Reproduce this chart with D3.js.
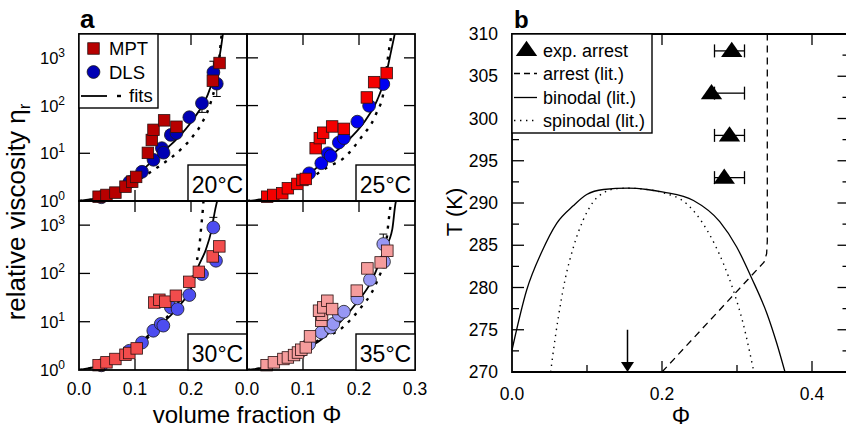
<!DOCTYPE html>
<html><head><meta charset="utf-8">
<script src="https://cdn.jsdelivr.net/npm/d3@7"></script>
<style>
body{margin:0;background:#fff}
svg{display:block}
text{font-family:"Liberation Sans",Arial,Helvetica,sans-serif;fill:#000}
</style>
</head><body>
<svg id="chart" width="846" height="431"></svg>
<script>
// ---------- panel a: relative viscosity vs. volume fraction (MPT and DLS, four temperatures) ----------
const tempLabels = ["20°C", "25°C", "30°C", "35°C"];
const phiTickLabelsA = [["0.0", "0.1", "0.2"], ["0.0", "0.1", "0.2", "0.3"]];
const etaTicks = [1, 10, 100, 1000];

// [phi, eta]
const mpt20 = [[0.035,1.23],[0.049,1.34],[0.065,1.5],[0.083,2.0],[0.095,2.54],[0.102,3.2],[0.123,10.2],[0.130,19],[0.133,31],[0.152,49],[0.174,36],[0.239,331],[0.251,780]];
const dls20 = [[0.040,1.2],[0.090,2.5],[0.1125,4.1],[0.133,7.3],[0.148,12.8],[0.151,10.3],[0.164,24.3],[0.174,26.5],[0.197,57],[0.2196,112],[0.240,500],[0.246,288]];
const mpt25 = [[0.036,1.23],[0.047,1.34],[0.063,1.45],[0.073,1.85],[0.090,2.28],[0.099,2.76],[0.105,2.9],[0.1226,12.8],[0.130,20.8],[0.136,27],[0.152,36.5],[0.173,32.5],[0.214,148],[0.227,310],[0.2494,480]];
const dls25 = [[0.111,3.8],[0.1327,6.2],[0.1446,10],[0.1494,8.8],[0.164,16.8],[0.173,20.8],[0.197,46],[0.218,99],[0.2434,282]];
const mpt30 = [[0.035,1.26],[0.049,1.44],[0.065,1.69],[0.083,2.07],[0.0899,2.25],[0.103,2.8],[0.1345,25],[0.1435,28.5],[0.154,26],[0.173,34.5],[0.197,67],[0.214,108],[0.2387,225],[0.2506,363]];
const dls30 = [[0.040,1.25],[0.0899,2.5],[0.1125,3.7],[0.1327,6.5],[0.146,9],[0.1506,8.3],[0.164,19.8],[0.176,18.3],[0.197,35.7],[0.2196,97],[0.2399,895],[0.2446,183]];
const mpt35 = [[0.035,1.26],[0.048,1.44],[0.065,1.69],[0.073,1.82],[0.084,2.04],[0.091,2.3],[0.097,2.63],[0.105,2.94],[0.1125,4.97],[0.1327,10.5],[0.134,14],[0.1286,16.9],[0.136,19.8],[0.1435,27.2],[0.152,18.3],[0.196,44],[0.215,127],[0.2387,169],[0.2506,295]];
const dls35 = [[0.097,2.5],[0.111,3.45],[0.1327,6.0],[0.1494,7.6],[0.154,9],[0.164,13.8],[0.173,16.1],[0.197,30.4],[0.2196,74],[0.2446,175],[0.2434,406]];

// DLS error bars: [phi, low, high]
const err20 = [[0.2196,72,112],[0.240,500,850],[0.246,155,288]];
const err25 = [];
const err30 = [[0.2399,895,1450]];
const err35 = [[0.2434,406,653]];

// fit curves, [phi, eta]
const fitSolid20 = [[0,1],[0.04,1.2],[0.08,1.8],[0.114,4.5],[0.1435,9.3],[0.173,19],[0.203,50],[0.23,169],[0.243,480],[0.252,1260],[0.258,3900]];
const fitDot20   = [[0,1],[0.05,1.25],[0.1,2.5],[0.1405,5.1],[0.167,8.5],[0.203,22.4],[0.218,40],[0.2327,95],[0.2416,214],[0.2494,660],[0.2536,2400],[0.256,4000]];
const fitSolid25 = [[0,1],[0.05,1.25],[0.09,2.1],[0.12,4.5],[0.155,10],[0.185,21],[0.212,50],[0.2327,132],[0.2476,408],[0.2566,1260],[0.2655,3900]];
const fitDot25   = [[0,1],[0.05,1.2],[0.1,2.4],[0.1435,5.1],[0.1726,7.9],[0.203,20.8],[0.2298,64],[0.2446,214],[0.2536,1490],[0.2565,2400],[0.258,3500]];
const fitSolid30 = [[0,1],[0.05,1.35],[0.09,2.3],[0.12,4.8],[0.15,9.5],[0.18,22],[0.2,48],[0.212,130],[0.2268,318],[0.2357,708],[0.2434,2150],[0.2476,3500]];
const fitDot30   = [[0,1],[0.05,1.35],[0.1,2.8],[0.15,10],[0.18,28],[0.2,70],[0.21,170],[0.216,480],[0.2185,980],[0.221,2000],[0.2226,3500]];
const fitSolid35 = [[0,1],[0.05,1.3],[0.1,2.6],[0.1315,4.2],[0.167,10],[0.197,25.7],[0.221,64.6],[0.245,300],[0.2595,830],[0.2655,2950],[0.268,3500]];
const fitDot35   = [[0,1],[0.05,1.25],[0.1,2.3],[0.1256,4],[0.1708,7.6],[0.1887,12.3],[0.206,21.4],[0.221,37],[0.2327,71],[0.245,200],[0.2554,2140],[0.258,3500]];

// ---------- panel b: state diagram ----------
const arrestPhi = [0.293, 0.266, 0.290, 0.283];
const arrestT   = [308, 303, 298, 293];
const arrestPhiLow  = [0.27, 0.27, 0.27, 0.27];
const arrestPhiHigh = [0.31, 0.31, 0.31, 0.31];
const arrestLit = [[0.2,270],[0.336,283],[0.3395,284],[0.3404,285.5],[0.3404,310]];
const binodal = [[0,272.6],[0.0196,279.7],[0.0396,284.2],[0.0596,287.6],[0.082,289.7],[0.0996,291.0],[0.122,291.6],[0.155,291.75],[0.18,291.6],[0.202,291.3],[0.242,290.3],[0.277,287.8],[0.2996,284.8],[0.3196,281.1],[0.34,276.9],[0.353,273.4],[0.364,270]];
const spinodal = [[0.0516,270],[0.053,271],[0.0618,276.5],[0.0707,280.9],[0.082,284.8],[0.095,288],[0.108,290.1],[0.124,291.3],[0.14,291.7],[0.155,291.75],[0.175,291.65],[0.202,291.2],[0.233,289.9],[0.26,286.8],[0.282,282.8],[0.295,279.7],[0.308,275.8],[0.3225,270]];
const arrowPhi = 0.154, arrowTopT = 275;
const tTicks = [270, 275, 280, 285, 290, 295, 300, 305, 310];
const phiTicksB = [0.0, 0.2, 0.4];
const legendB = ["exp. arrest", "arrest (lit.)", "binodal (lit.)", "spinodal (lit.)"];

const svg = d3.select("#chart");

// ================= panel a =================
const colX = [[79, 247], [247, 415]];
const rowY = [[201, 34], [370, 201]];
const cells = [
  {mpt: mpt20, dls: dls20, err: err20, solid: fitSolid20, dot: fitDot20, col: 0, row: 0, cM: "#b70000", cD: "#0000b4"},
  {mpt: mpt25, dls: dls25, err: err25, solid: fitSolid25, dot: fitDot25, col: 1, row: 0, cM: "#f40000", cD: "#0000f2"},
  {mpt: mpt30, dls: dls30, err: err30, solid: fitSolid30, dot: fitDot30, col: 0, row: 1, cM: "#f24c4c", cD: "#4d4df0"},
  {mpt: mpt35, dls: dls35, err: err35, solid: fitSolid35, dot: fitDot35, col: 1, row: 1, cM: "#f59c9c", cD: "#9797f4"}
];

const layerCurves = svg.append("g");
const layerMarks = svg.append("g");
const layerFrame = svg.append("g");

cells.forEach((c, i) => {
  const x = d3.scaleLinear().domain([0, 0.3]).range(colX[c.col]);
  const y = d3.scaleLog().domain([1, Math.pow(10, 3.5)]).range(rowY[c.row]);
  const [x0, x1] = x.range();
  const [yb, yt] = y.range();

  const clipId = "clipA" + i;
  svg.append("clipPath").attr("id", clipId).append("rect")
    .attr("x", x0).attr("y", yt).attr("width", x1 - x0).attr("height", yb - yt);

  const line = d3.line().x(d => x(d[0])).y(d => y(d[1])).curve(d3.curveMonotoneX);
  const cg = layerCurves.append("g").attr("clip-path", `url(#${clipId})`);
  cg.append("path").datum(c.dot).attr("d", line).attr("fill", "none")
    .attr("stroke", "#000").attr("stroke-width", 2.4).attr("stroke-dasharray", "3,6.5");
  cg.append("path").datum(c.solid).attr("d", line).attr("fill", "none")
    .attr("stroke", "#000").attr("stroke-width", 1.8);

  const mg = layerMarks.append("g");
  // error bars
  c.err.forEach(e => {
    mg.append("line").attr("x1", x(e[0])).attr("x2", x(e[0])).attr("y1", y(e[1])).attr("y2", y(e[2]))
      .attr("stroke", "#000").attr("stroke-width", 1);
    [e[1], e[2]].forEach(v => mg.append("line").attr("x1", x(e[0]) - 4).attr("x2", x(e[0]) + 4)
      .attr("y1", y(v)).attr("y2", y(v)).attr("stroke", "#000").attr("stroke-width", 1));
  });
  mg.selectAll("circle.dls").data(c.dls).join("circle").attr("class", "dls")
    .attr("cx", d => x(d[0])).attr("cy", d => y(d[1])).attr("r", 6.4)
    .attr("fill", c.cD).attr("stroke", "#1a1a1a").attr("stroke-width", 0.8);
  const s = 11.5;
  mg.selectAll("rect.mpt").data(c.mpt).join("rect").attr("class", "mpt")
    .attr("x", d => x(d[0]) - s / 2).attr("y", d => y(d[1]) - s / 2).attr("width", s).attr("height", s)
    .attr("fill", c.cM).attr("stroke", "#2a1010").attr("stroke-width", 0.8);

  const fg = layerFrame.append("g");
  // inward ticks
  [0.1, 0.2].forEach(v => {
    fg.append("line").attr("x1", x(v)).attr("x2", x(v)).attr("y1", yb).attr("y2", yb - 11).attr("stroke", "#000").attr("stroke-width", 1.3);
    fg.append("line").attr("x1", x(v)).attr("x2", x(v)).attr("y1", yt).attr("y2", yt + 11).attr("stroke", "#000").attr("stroke-width", 1.3);
  });
  [10, 100, 1000].forEach(v => {
    fg.append("line").attr("x1", x0).attr("x2", x0 + 11).attr("y1", y(v)).attr("y2", y(v)).attr("stroke", "#000").attr("stroke-width", 1.3);
    fg.append("line").attr("x1", x1).attr("x2", x1 - 11).attr("y1", y(v)).attr("y2", y(v)).attr("stroke", "#000").attr("stroke-width", 1.3);
  });
  fg.append("rect").attr("x", x0).attr("y", yt).attr("width", x1 - x0).attr("height", yb - yt)
    .attr("fill", "none").attr("stroke", "#000").attr("stroke-width", 1.8);

  // temperature box
  const bw = 59, bh = 36;
  fg.append("rect").attr("x", x1 - bw).attr("y", yb - bh).attr("width", bw).attr("height", bh)
    .attr("fill", "#fff").attr("stroke", "#000").attr("stroke-width", 1.4);
  fg.append("text").attr("x", x1 - bw / 2).attr("y", yb - 8).attr("text-anchor", "middle")
    .attr("font-size", 23).text(tempLabels[i]);

  // y tick labels on the left column
  if (c.col === 0) {
    etaTicks.forEach(v => {
      const t = fg.append("text").attr("x", 65).attr("y", y(v) + 6).attr("text-anchor", "end").attr("font-size", 16.5);
      t.append("tspan").text("10");
      t.append("tspan").attr("dy", -7).attr("font-size", 12).text(Math.round(Math.log10(v)));
    });
  }
  // x tick labels on the bottom row
  if (c.row === 1) {
    const labs = phiTickLabelsA[c.col];
    labs.forEach(l => {
      fg.append("text").attr("x", x(+l)).attr("y", 395).attr("text-anchor", "middle").attr("font-size", 17.5).text(l);
    });
  }
});

// legend of panel a
{
  const lg = layerFrame.append("g");
  lg.append("rect").attr("x", 79).attr("y", 34).attr("width", 79).attr("height", 74)
    .attr("fill", "#fff").attr("stroke", "#000").attr("stroke-width", 1.4);
  lg.append("rect").attr("x", 93.5 - 5.75).attr("y", 48.5 - 5.75).attr("width", 11.5).attr("height", 11.5)
    .attr("fill", "#b70000").attr("stroke", "#2a1010").attr("stroke-width", 0.8);
  lg.append("text").attr("x", 109).attr("y", 55).attr("font-size", 18.5).text("MPT");
  lg.append("circle").attr("cx", 93.5).attr("cy", 72).attr("r", 6.4)
    .attr("fill", "#0000b4").attr("stroke", "#1a1a1a").attr("stroke-width", 0.8);
  lg.append("text").attr("x", 109).attr("y", 78.5).attr("font-size", 18.5).text("DLS");
  lg.append("line").attr("x1", 81).attr("x2", 107).attr("y1", 96).attr("y2", 96).attr("stroke", "#000").attr("stroke-width", 1.8);
  lg.append("line").attr("x1", 117).attr("x2", 121).attr("y1", 96).attr("y2", 96).attr("stroke", "#000").attr("stroke-width", 2.4);
  lg.append("text").attr("x", 129).attr("y", 102).attr("font-size", 18.5).text("fits");
}

// panel a labels
svg.append("text").attr("x", 80).attr("y", 28).attr("font-size", 26).attr("font-weight", "bold").text("a");
{
  const yl = svg.append("text").attr("transform", "translate(25,212) rotate(-90)")
    .attr("text-anchor", "middle").attr("font-size", 26);
  yl.append("tspan").text("relative viscosity η");
  yl.append("tspan").attr("dy", 5).attr("font-size", 17).text("r");
}
svg.append("text").attr("x", 247).attr("y", 423).attr("text-anchor", "middle").attr("font-size", 24).text("volume fraction Φ");

// ================= panel b =================
const xb = d3.scaleLinear().domain([0, 0.45]).range([512, 849.5]);
const yb = d3.scaleLinear().domain([270, 310]).range([372, 34]);
const gb = svg.append("g");
const lineB = d3.line().x(d => xb(d[0])).y(d => yb(d[1]));

gb.append("path").datum(binodal).attr("d", lineB.curve(d3.curveMonotoneX)).attr("fill", "none")
  .attr("stroke", "#000").attr("stroke-width", 1.3);
gb.append("path").datum(spinodal).attr("d", lineB.curve(d3.curveMonotoneX)).attr("fill", "none")
  .attr("stroke", "#000").attr("stroke-width", 1.4).attr("stroke-dasharray", "1.4,4.6");
gb.append("path").datum(arrestLit).attr("d", d3.line().x(d => xb(d[0])).y(d => yb(d[1])).curve(d3.curveLinear))
  .attr("fill", "none").attr("stroke", "#000").attr("stroke-width", 1.3).attr("stroke-dasharray", "7,5");

// experimental arrest points with horizontal error bars
arrestPhi.forEach((p, i) => {
  const yy = yb(arrestT[i]);
  gb.append("line").attr("x1", xb(arrestPhiLow[i])).attr("x2", xb(arrestPhiHigh[i])).attr("y1", yy).attr("y2", yy)
    .attr("stroke", "#000").attr("stroke-width", 1.3);
  [arrestPhiLow[i], arrestPhiHigh[i]].forEach(v =>
    gb.append("line").attr("x1", xb(v)).attr("x2", xb(v)).attr("y1", yy - 6.5).attr("y2", yy + 6.5)
      .attr("stroke", "#000").attr("stroke-width", 1.3));
});
const tri = d3.symbol().type(d3.symbolTriangle).size(150);
gb.selectAll("path.arr").data(arrestPhi).join("path").attr("class", "arr")
  .attr("d", tri).attr("transform", (d, i) => `translate(${xb(d)},${yb(arrestT[i]) + 1}) scale(1.15,0.95)`)
  .attr("fill", "#000");

// arrow at the critical volume fraction
gb.append("line").attr("x1", xb(arrowPhi)).attr("x2", xb(arrowPhi)).attr("y1", yb(arrowTopT)).attr("y2", yb(270) - 8)
  .attr("stroke", "#000").attr("stroke-width", 1.5);
gb.append("path").attr("d", `M${xb(arrowPhi) - 6.5},${yb(270) - 10} L${xb(arrowPhi) + 6.5},${yb(270) - 10} L${xb(arrowPhi)},${yb(270)} Z`)
  .attr("fill", "#000");

// axes of panel b
tTicks.forEach(t => {
  gb.append("line").attr("x1", 512).attr("x2", 524).attr("y1", yb(t)).attr("y2", yb(t)).attr("stroke", "#000").attr("stroke-width", 1.3);
  gb.append("line").attr("x1", 849.5).attr("x2", 837.5).attr("y1", yb(t)).attr("y2", yb(t)).attr("stroke", "#000").attr("stroke-width", 1.3);
  gb.append("text").attr("x", 498).attr("y", yb(t) + 6).attr("text-anchor", "end").attr("font-size", 17.5).text(t);
  if (t < 310) {
    const m = t + 2.5;
    gb.append("line").attr("x1", 512).attr("x2", 519).attr("y1", yb(m)).attr("y2", yb(m)).attr("stroke", "#000").attr("stroke-width", 1.3);
    gb.append("line").attr("x1", 849.5).attr("x2", 842.5).attr("y1", yb(m)).attr("y2", yb(m)).attr("stroke", "#000").attr("stroke-width", 1.3);
  }
});
[0.1, 0.2, 0.3, 0.4].forEach(v => {
  const major = Math.abs(v - 0.2) < 1e-9 || Math.abs(v - 0.4) < 1e-9;
  gb.append("line").attr("x1", xb(v)).attr("x2", xb(v)).attr("y1", yb(270)).attr("y2", yb(270) - (major ? 11 : 7))
    .attr("stroke", "#000").attr("stroke-width", 1.3);
  if (major) gb.append("line").attr("x1", xb(v)).attr("x2", xb(v)).attr("y1", yb(310)).attr("y2", yb(310) + 11)
    .attr("stroke", "#000").attr("stroke-width", 1.3);
});
phiTicksB.forEach(v => gb.append("text").attr("x", xb(v)).attr("y", 400).attr("text-anchor", "middle")
  .attr("font-size", 17.5).text(v.toFixed(1)));
gb.append("path").attr("d", `M849.5,34 H512 V372 H849.5`).attr("fill", "none").attr("stroke", "#000").attr("stroke-width", 1.8);

// legend of panel b
{
  const lg = gb.append("g");
  lg.append("rect").attr("x", 512).attr("y", 34).attr("width", 140).attr("height", 99)
    .attr("fill", "#fff").attr("stroke", "#000").attr("stroke-width", 1.4);
  const ys = [50, 73.5, 97.5, 120.5];
  lg.append("path").attr("d", tri).attr("transform", `translate(526.5,${ys[0] + 1}) scale(1.15,0.95)`).attr("fill", "#000");
  lg.append("line").attr("x1", 514).attr("x2", 537).attr("y1", ys[1]).attr("y2", ys[1]).attr("stroke", "#000").attr("stroke-width", 1.3).attr("stroke-dasharray", "6,4");
  lg.append("line").attr("x1", 514).attr("x2", 537).attr("y1", ys[2]).attr("y2", ys[2]).attr("stroke", "#000").attr("stroke-width", 1.3);
  lg.append("line").attr("x1", 514).attr("x2", 537).attr("y1", ys[3]).attr("y2", ys[3]).attr("stroke", "#000").attr("stroke-width", 1.4).attr("stroke-dasharray", "1.4,4.6");
  legendB.forEach((t, i) => lg.append("text").attr("x", 543).attr("y", ys[i] + 6.5).attr("font-size", 18).text(t));
}

svg.append("text").attr("x", 514).attr("y", 28).attr("font-size", 24).attr("font-weight", "bold").text("b");
svg.append("text").attr("transform", "translate(462,212) rotate(-90)").attr("text-anchor", "middle")
  .attr("font-size", 22).text("T (K)");
svg.append("text").attr("x", 681).attr("y", 424).attr("text-anchor", "middle")
  .attr("font-family", '"Liberation Serif","Times New Roman",serif').attr("font-size", 23).text("Φ");
</script>
</body></html>
